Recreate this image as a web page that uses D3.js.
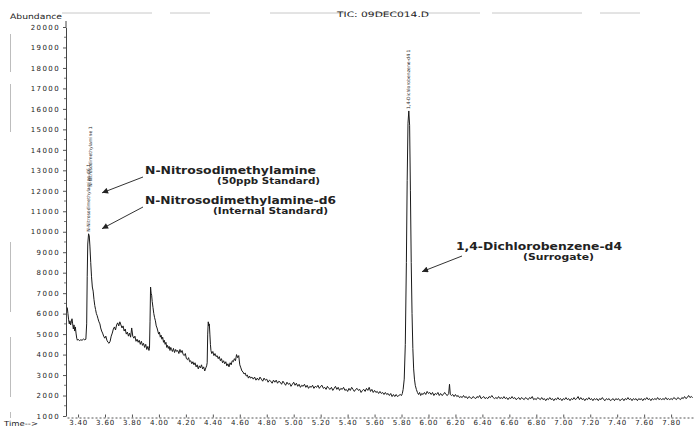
<!DOCTYPE html>
<html><head><meta charset="utf-8">
<script src="https://cdn.jsdelivr.net/npm/d3@7"></script>
<style>
html,body{margin:0;padding:0;background:#fff;}
svg{display:block;}
text{font-family:"DejaVu Sans",sans-serif;fill:#222;}
</style></head><body>
<svg id="chart" width="694" height="428"></svg>
<script>
const chartTitle = "TIC: 09DEC014.D";
const yAxisTitle = "Abundance";
const xAxisTitle = "Time-->";
const yTickValues = [1000,2000,3000,4000,5000,6000,7000,8000,9000,10000,11000,12000,13000,14000,15000,16000,17000,18000,19000,20000];
const xTickValues = [3.40,3.60,3.80,4.00,4.20,4.40,4.60,4.80,5.00,5.20,5.40,5.60,5.80,6.00,6.20,6.40,6.60,6.80,7.00,7.20,7.40,7.60,7.80];

// total ion chromatogram: [retention time (min), abundance]
const tic = [
[3.320,6300],[3.325,6000],[3.330,5700],[3.335,5500],[3.340,5650],[3.345,5450],[3.350,5600],[3.355,5750],[3.360,5500],[3.365,5250],
[3.370,5450],[3.375,5150],[3.380,5350],[3.385,5050],[3.390,4800],[3.395,4700],[3.400,4750],[3.410,4680],[3.420,4720],[3.430,4700],
[3.440,4760],[3.450,4720],[3.458,4750],[3.464,5500],[3.468,7800],[3.472,9400],[3.478,9900],[3.483,9800],[3.488,9300],[3.494,8500],
[3.500,7800],[3.506,7300],[3.512,7100],[3.518,6700],[3.524,6400],[3.530,6200],[3.536,6000],[3.542,5900],[3.548,5750],[3.555,5600],
[3.562,5500],[3.568,5300],[3.575,5150],[3.582,5050],[3.590,4900],[3.598,4800],[3.606,4900],[3.614,4700],[3.622,4600],[3.630,4550],
[3.638,4650],[3.646,4900],[3.654,5050],[3.662,5250],[3.670,5350],[3.678,5200],[3.686,5450],[3.694,5550],[3.702,5400],[3.710,5600],
[3.718,5450],[3.726,5300],[3.734,5400],[3.742,5150],[3.750,5250],[3.758,5000],[3.766,5100],[3.774,4900],[3.782,5050],[3.790,4850],
[3.798,5300],[3.806,4900],[3.814,4800],[3.822,4900],[3.830,4650],[3.838,4750],[3.846,4600],[3.854,4700],[3.862,4500],[3.870,4650],
[3.878,4450],[3.886,4550],[3.894,4350],[3.902,4500],[3.910,4250],[3.918,4400],[3.926,4200],[3.930,4300],[3.934,5600],[3.938,7300],
[3.942,7000],[3.946,6900],[3.950,6600],[3.956,6300],[3.962,6000],[3.968,5800],[3.974,5650],[3.980,5400],[3.986,5300],[3.992,5150],
[3.998,5000],[4.004,5100],[4.010,4850],[4.016,4950],[4.022,4750],[4.028,4850],[4.034,4600],[4.040,4700],[4.046,4500],[4.052,4600],
[4.058,4350],[4.064,4450],[4.070,4300],[4.076,4400],[4.082,4200],[4.088,4350],[4.094,4250],[4.100,4150],[4.108,4300],[4.116,4100],
[4.124,4250],[4.132,4150],[4.140,4200],[4.148,4050],[4.156,4250],[4.164,4100],[4.172,4200],[4.180,4000],[4.188,3950],[4.196,4050],
[4.204,3800],[4.212,3750],[4.220,3850],[4.228,3650],[4.236,3700],[4.244,3550],[4.252,3650],[4.260,3500],[4.268,3600],[4.276,3400],
[4.284,3500],[4.292,3300],[4.300,3450],[4.308,3350],[4.316,3500],[4.324,3300],[4.332,3400],[4.340,3200],[4.348,3350],[4.354,3450],
[4.358,3600],[4.362,5000],[4.366,5600],[4.370,5400],[4.374,5500],[4.378,5000],[4.382,4500],[4.386,4200],[4.392,4050],[4.400,4150],
[4.408,3950],[4.416,4050],[4.424,3900],[4.432,3950],[4.440,3800],[4.448,3900],[4.456,3700],[4.464,3800],[4.472,3600],[4.480,3700],
[4.488,3550],[4.496,3650],[4.504,3450],[4.512,3550],[4.520,3400],[4.528,3600],[4.536,3500],[4.544,3700],[4.552,3650],[4.560,3800],
[4.568,3700],[4.576,4000],[4.584,3850],[4.592,3950],[4.600,3500],[4.608,3350],[4.616,3200],[4.624,3150],[4.632,3050],[4.640,3100],
[4.648,2950],[4.656,3000],[4.664,2850],[4.672,2950],[4.680,2850],[4.690,2900],[4.700,2800],[4.710,2900],[4.720,2750],[4.730,2850],
[4.740,2750],[4.750,2900],[4.760,2800],[4.770,2700],[4.780,2850],[4.790,2750],[4.800,2800],[4.810,2650],[4.820,2750],[4.830,2700],
[4.840,2600],[4.850,2750],[4.860,2650],[4.870,2750],[4.880,2600],[4.890,2700],[4.900,2650],[4.910,2550],[4.920,2700],[4.930,2600],
[4.940,2500],[4.950,2650],[4.960,2550],[4.970,2600],[4.980,2450],[4.990,2550],[5.000,2650],[5.010,2500],[5.020,2600],[5.030,2450],
[5.040,2550],[5.050,2400],[5.060,2500],[5.070,2450],[5.080,2550],[5.090,2400],[5.100,2500],[5.110,2350],[5.120,2450],[5.130,2400],
[5.140,2500],[5.150,2350],[5.160,2450],[5.170,2400],[5.180,2500],[5.190,2350],[5.200,2450],[5.210,2500],[5.220,2350],[5.230,2400],
[5.240,2300],[5.250,2450],[5.260,2350],[5.270,2300],[5.280,2400],[5.290,2250],[5.300,2350],[5.310,2450],[5.320,2300],[5.330,2400],
[5.340,2250],[5.350,2350],[5.360,2300],[5.370,2400],[5.380,2250],[5.390,2300],[5.400,2200],[5.410,2350],[5.420,2250],[5.430,2400],
[5.440,2300],[5.450,2200],[5.460,2300],[5.470,2350],[5.480,2250],[5.490,2300],[5.500,2150],[5.510,2250],[5.520,2300],[5.530,2200],
[5.540,2350],[5.550,2250],[5.560,2400],[5.570,2200],[5.580,2300],[5.590,2150],[5.600,2250],[5.610,2150],[5.620,2200],[5.630,2100],
[5.640,2200],[5.650,2100],[5.660,2150],[5.670,2050],[5.680,2150],[5.690,2050],[5.700,2100],[5.710,2000],[5.720,2100],[5.730,1950],
[5.740,2050],[5.750,1950],[5.760,2050],[5.770,1950],[5.780,2000],[5.790,2050],[5.800,2000],[5.806,2100],[5.812,2300],[5.820,2800],
[5.828,4500],[5.836,8500],[5.842,12500],[5.848,15300],[5.854,15900],[5.860,15200],[5.866,12000],[5.872,8500],[5.878,6000],[5.884,4300],
[5.890,3300],[5.896,2800],[5.902,2500],[5.910,2300],[5.918,2150],[5.926,2050],[5.934,2150],[5.942,2000],[5.950,2100],[5.960,2050],
[5.970,2150],[5.980,2050],[5.990,2200],[6.000,2100],[6.010,2150],[6.020,2050],[6.030,2150],[6.040,2000],[6.050,2100],[6.060,2050],
[6.070,2150],[6.080,2000],[6.090,2100],[6.100,2000],[6.110,2050],[6.120,2150],[6.130,2050],[6.140,2000],[6.150,2100],[6.156,2550],
[6.162,2050],[6.170,2000],[6.180,2050],[6.190,1950],[6.200,2050],[6.210,1950],[6.220,2000],[6.230,1900],[6.240,1950],[6.250,1900],
[6.260,2000],[6.270,1900],[6.280,1950],[6.290,1850],[6.300,1950],[6.310,1900],[6.320,1850],[6.330,1950],[6.340,1900],[6.350,1850],
[6.360,1950],[6.370,1900],[6.380,2000],[6.390,1850],[6.400,1900],[6.410,1950],[6.420,1850],[6.430,1900],[6.440,1850],[6.450,1950],
[6.460,1900],[6.470,2000],[6.480,1900],[6.490,1850],[6.500,1900],[6.510,1850],[6.520,1950],[6.530,1850],[6.540,1900],[6.550,1850],
[6.560,1950],[6.570,1850],[6.580,1900],[6.590,1800],[6.600,1900],[6.610,1850],[6.620,1950],[6.630,1850],[6.640,1900],[6.650,1800],
[6.660,1850],[6.670,1900],[6.680,1800],[6.690,1900],[6.700,1850],[6.710,1800],[6.720,1900],[6.730,1850],[6.740,1800],[6.750,1900],
[6.760,1850],[6.770,1950],[6.780,1800],[6.790,1850],[6.800,1800],[6.810,1900],[6.820,1850],[6.830,1800],[6.840,1900],[6.850,1800],
[6.860,1850],[6.870,1750],[6.880,1850],[6.890,1800],[6.900,1900],[6.910,1800],[6.920,1850],[6.930,1750],[6.940,1850],[6.950,1800],
[6.960,1900],[6.970,1800],[6.980,1850],[6.990,1750],[7.000,1850],[7.010,1800],[7.020,1900],[7.030,1800],[7.040,1850],[7.050,1750],
[7.060,1850],[7.070,1800],[7.080,1900],[7.090,1800],[7.100,1850],[7.110,1950],[7.120,1800],[7.130,1900],[7.140,1800],[7.150,1850],
[7.160,1750],[7.170,1850],[7.180,1800],[7.190,1900],[7.200,1800],[7.210,1850],[7.220,1750],[7.230,1850],[7.240,1800],[7.250,1850],
[7.260,1750],[7.270,1850],[7.280,1800],[7.290,1900],[7.300,1800],[7.310,1750],[7.320,1850],[7.330,1800],[7.340,1850],[7.350,1750],
[7.360,1800],[7.370,1850],[7.380,1750],[7.390,1850],[7.400,1800],[7.410,1850],[7.420,1750],[7.430,1800],[7.440,1850],[7.450,1750],
[7.460,1850],[7.470,1800],[7.480,1900],[7.490,1800],[7.500,1850],[7.510,1750],[7.520,1850],[7.530,1800],[7.540,1850],[7.550,1750],
[7.560,1850],[7.570,1800],[7.580,1850],[7.590,1750],[7.600,1850],[7.610,1800],[7.620,1900],[7.630,1800],[7.640,1850],[7.650,1750],
[7.660,1850],[7.670,1800],[7.680,1850],[7.690,1800],[7.700,1900],[7.710,1800],[7.720,1850],[7.730,1800],[7.740,1850],[7.750,1800],
[7.760,1900],[7.770,1800],[7.780,1850],[7.790,1800],[7.800,1850],[7.810,1800],[7.820,1900],[7.830,1850],[7.840,1800],[7.850,1900],
[7.860,1850],[7.870,1800],[7.880,1900],[7.890,1850],[7.900,1950],[7.910,1850],[7.920,1900],[7.930,2000],[7.940,1900],[7.950,1950],
[7.960,1900]
];

// ChemStation peak labels (rotated), anchored at the label base
const peakLabelTimes = [3.474, 3.490, 5.852];
const peakLabelAbundances = [10000, 12200, 16000];
const peakLabelTexts = ["N-Nitrosodimethylamine-d6 1", "N-Nitrosodimethylamine 1", "1,4-Dichlorobenzene-d4 1"];

// call-out annotations
const calloutNames = ["N-Nitrosodimethylamine", "N-Nitrosodimethylamine-d6", "1,4-Dichlorobenzene-d4"];
const calloutNotes = ["(50ppb Standard)", "(Internal Standard)", "(Surrogate)"];
const calloutTargetTimes = [3.578, 3.578, 5.952];
const calloutTargetAbundances = [11900, 10150, 8050];

const W = 694, H = 428;
const svg = d3.select("#chart");

const x = d3.scaleLinear().domain([3.318, 7.97]).range([67, 694]);
const y = d3.scaleLinear().domain([1000, 20000]).range([416, 27]);

// faint scan / header artefacts
svg.append("line").attr("x1", 62).attr("x2", 694).attr("y1", 13).attr("y2", 13)
  .attr("stroke", "#c8c8c8").attr("stroke-width", 1).attr("stroke-dasharray", "90,18,40,60,75,20,40,20,55,12");
svg.append("line").attr("x1", 10.5).attr("x2", 10.5).attr("y1", 34).attr("y2", 418)
  .attr("stroke", "#bdbdbd").attr("stroke-width", 1).attr("stroke-dasharray", "38,12,48,110,70,25,60,15");

// titles
svg.append("text").attr("x", 10).attr("y", 19).attr("font-size", 7.5)
  .attr("textLength", 52).attr("lengthAdjust", "spacingAndGlyphs").text(yAxisTitle);
svg.append("text").attr("x", 337).attr("y", 17).attr("font-size", 7.5)
  .attr("textLength", 92).attr("lengthAdjust", "spacingAndGlyphs").text(chartTitle);
svg.append("text").attr("x", 4).attr("y", 425.5).attr("font-size", 7)
  .attr("textLength", 34).attr("lengthAdjust", "spacingAndGlyphs").text(xAxisTitle);

// y axis
const yAxis = d3.axisLeft(y).tickValues(yTickValues).tickSize(3).tickSizeOuter(0).tickPadding(3)
  .tickFormat(d3.format("d"));
const gy = svg.append("g").attr("transform", "translate(66,0)").call(yAxis);
gy.select(".domain").attr("stroke", "#444").attr("stroke-width", 1);
gy.selectAll(".tick line").attr("stroke", "#555");
gy.selectAll(".tick text").attr("font-size", 7).attr("fill", "#2a2a2a")
  .attr("font-family", "DejaVu Sans").attr("letter-spacing", 1.4);
gy.append("line").attr("x1", 0).attr("x2", 0).attr("y1", 21).attr("y2", 27).attr("stroke", "#444");
gy.selectAll(".minor").data(yTickValues.slice(0, -1)).join("line").attr("class", "minor")
  .attr("x1", -2).attr("x2", 0).attr("y1", d => y(d + 500)).attr("y2", d => y(d + 500)).attr("stroke", "#777");

// x axis
const xAxis = d3.axisBottom(x).tickValues(xTickValues).tickSize(3).tickSizeOuter(0).tickPadding(0)
  .tickFormat(d3.format(".2f"));
const gx = svg.append("g").attr("transform", "translate(0,417.5)").call(xAxis);
gx.select(".domain").attr("stroke", "#555").attr("stroke-dasharray", "2,2");
gx.selectAll(".tick line").attr("stroke", "#555").attr("transform", "translate(0,-3)");
gx.selectAll(".tick text").attr("font-size", 7).attr("fill", "#2a2a2a")
  .attr("font-family", "DejaVu Sans").attr("letter-spacing", 0.8);

// trace
const line = d3.line().x(d => x(d[0])).y(d => y(d[1]));
svg.append("path").datum(tic).attr("d", line).attr("fill", "none")
  .attr("stroke", "#1a1a1a").attr("stroke-width", 1).attr("stroke-linejoin", "round");

// rotated peak labels
peakLabelTexts.forEach((t, i) => {
  const px = x(peakLabelTimes[i]), py = y(peakLabelAbundances[i]);
  svg.append("text").attr("transform", `translate(${px + 1.8},${py}) rotate(-90)`)
    .attr("font-size", 4.6).attr("fill", "#333").text(t);
});

// arrow marker
svg.append("defs").append("marker").attr("id", "arrow").attr("viewBox", "0 0 10 10")
  .attr("refX", 10).attr("refY", 5).attr("markerWidth", 8).attr("markerHeight", 6)
  .attr("markerUnits", "userSpaceOnUse").attr("orient", "auto")
  .append("path").attr("d", "M0,0 L10,5 L0,10 Z").attr("fill", "#222");

// callouts layout (text boxes and arrow tails, in pixels)
const calloutLayout = [
  {tx: 145, ty: 174, tw: 171, nx: 217, ny: 184, nw: 103, ax: 143, ay: 177},
  {tx: 145, ty: 204, tw: 191, nx: 213, ny: 214, nw: 115, ax: 143, ay: 207},
  {tx: 456, ty: 250, tw: 166, nx: 523, ny: 260, nw: 71, ax: 462, ay: 256}
];
calloutNames.forEach((name, i) => {
  const L = calloutLayout[i];
  const tx = x(calloutTargetTimes[i]), ty = y(calloutTargetAbundances[i]);
  svg.append("line").attr("x1", L.ax).attr("y1", L.ay).attr("x2", tx).attr("y2", ty)
    .attr("stroke", "#333").attr("stroke-width", 1).attr("marker-end", "url(#arrow)");
  svg.append("text").attr("x", L.tx).attr("y", L.ty).attr("font-size", 10.5)
    .attr("font-family", "Liberation Sans, Arial, sans-serif").attr("font-weight", "bold")
    .attr("textLength", L.tw).attr("lengthAdjust", "spacingAndGlyphs").text(name);
  svg.append("text").attr("x", L.nx).attr("y", L.ny).attr("font-size", 8.5)
    .attr("font-family", "Liberation Sans, Arial, sans-serif").attr("font-weight", "bold")
    .attr("textLength", L.nw).attr("lengthAdjust", "spacingAndGlyphs").text(calloutNotes[i]);
});
</script>
</body></html>
